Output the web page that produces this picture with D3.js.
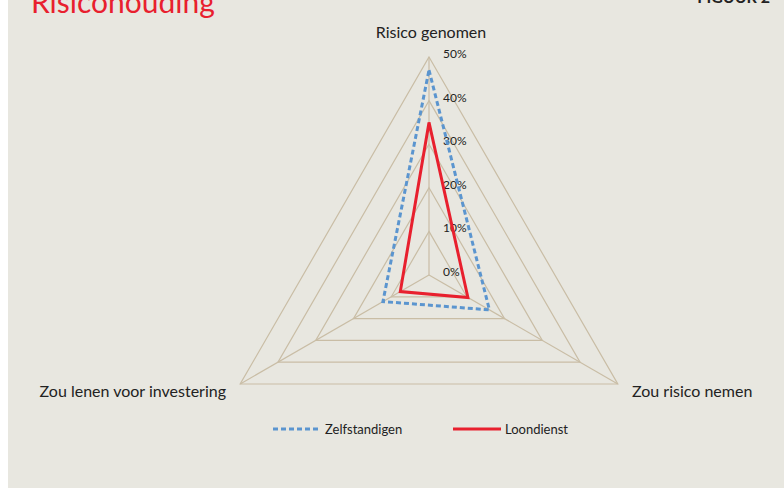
<!DOCTYPE html>
<html>
<head>
<meta charset="utf-8">
<script src="https://cdn.jsdelivr.net/npm/d3@7"></script>
<style>
  body { margin: 0; background: #ffffff; }
  svg { display: block; }
</style>
</head>
<body>
<div id="container"></div>
<script>
/* CONSTANTS AND GLOBALS */
const width = 784,
  height = 488,
  center = { x: 429, y: 275 },
  radius = 218;

// axes, clockwise from the top
const axes = ["Risico genomen", "Zou risico nemen", "Zou lenen voor investering"];
const ticks = [0, 10, 20, 30, 40, 50];
const zelfstandigen = [47, 16, 12.2];
const loondienst = [35, 10.3, 7.6];
const seriesNames = ["Zelfstandigen", "Loondienst"];

const colors = { grid: "#C9BDA5", blue: "#5B95CF", red: "#E8202E" };

const svg = d3.select("#container")
  .append("svg")
  .attr("width", width)
  .attr("height", height);

// panel background
svg.append("rect")
  .attr("x", 8).attr("y", 0)
  .attr("width", width - 8).attr("height", height)
  .attr("fill", "#E8E7E0");

// title (cut off at the top, as in the source)
svg.append("text")
  .attr("x", 31).attr("y", 13)
  .attr("font-family", "Lato, sans-serif")
  .attr("font-size", 30)
  .attr("fill", colors.red)
  .text("Risicohouding");

svg.append("text")
  .attr("x", 770).attr("y", 3)
  .attr("text-anchor", "end")
  .attr("font-family", "Lato, sans-serif")
  .attr("font-weight", "bold")
  .attr("font-size", 16)
  .attr("fill", "#222")
  .text("FIGUUR 2");

/* SCALES */
const rScale = d3.scaleLinear().domain([0, 50]).range([0, radius]);
const angle = d3.scalePoint()
  .domain(axes)
  .range([0, 2 * Math.PI * (axes.length - 1) / axes.length]);

const pt = (a, v) => [
  center.x + rScale(v) * Math.sin(angle(a)),
  center.y - rScale(v) * Math.cos(angle(a))
];

const g = svg.append("g");

// rings
g.selectAll(".ring")
  .data(ticks.filter(t => t > 0))
  .join("polygon")
  .attr("class", "ring")
  .attr("points", t => axes.map(a => pt(a, t).join(",")).join(" "))
  .attr("fill", "none")
  .attr("stroke", colors.grid)
  .attr("stroke-width", 1.2);

// spokes
g.selectAll(".spoke")
  .data(axes)
  .join("line")
  .attr("class", "spoke")
  .attr("x1", center.x).attr("y1", center.y)
  .attr("x2", a => pt(a, 50)[0])
  .attr("y2", a => pt(a, 50)[1])
  .attr("stroke", colors.grid)
  .attr("stroke-width", 1.2);

// tick labels
g.selectAll(".tick-label")
  .data(ticks)
  .join("text")
  .attr("class", "tick-label")
  .attr("x", center.x + 14)
  .attr("y", t => center.y - rScale(t) + 1)
  .attr("font-family", "Lato, sans-serif")
  .attr("font-size", 12)
  .attr("fill", "#222")
  .text(t => t + "%");

// axis labels
const labelPos = [
  { x: 431, y: 38, anchor: "middle" },
  { x: 632, y: 397, anchor: "start" },
  { x: 226, y: 397, anchor: "end" }
];
g.selectAll(".axis-label")
  .data(axes)
  .join("text")
  .attr("class", "axis-label")
  .attr("x", (d, i) => labelPos[i].x)
  .attr("y", (d, i) => labelPos[i].y)
  .attr("text-anchor", (d, i) => labelPos[i].anchor)
  .attr("font-family", "Lato, sans-serif")
  .attr("font-size", 16)
  .attr("fill", "#222")
  .text(d => d);

// series
const line = d3.line().curve(d3.curveLinearClosed);
const series = [
  { name: seriesNames[0], values: zelfstandigen, color: colors.blue, dash: "5,3" },
  { name: seriesNames[1], values: loondienst, color: colors.red, dash: null }
];

g.selectAll(".series")
  .data(series)
  .join("path")
  .attr("class", "series")
  .attr("d", s => line(axes.map((a, i) => pt(a, s.values[i]))))
  .attr("fill", "none")
  .attr("stroke", s => s.color)
  .attr("stroke-width", 3)
  .attr("stroke-dasharray", s => s.dash)
  .attr("stroke-linejoin", "miter");

// legend
const legend = svg.selectAll(".legend")
  .data(series)
  .join("g")
  .attr("class", "legend")
  .attr("transform", (d, i) => `translate(${i === 0 ? 273 : 453}, 429)`);

legend.append("line")
  .attr("x1", 0).attr("x2", 48)
  .attr("stroke", d => d.color)
  .attr("stroke-width", 3)
  .attr("stroke-dasharray", d => d.dash);

legend.append("text")
  .attr("x", 52).attr("y", 4.5)
  .attr("font-family", "Lato, sans-serif")
  .attr("font-size", 13)
  .attr("fill", "#222")
  .text(d => d.name);
</script>
</body>
</html>
